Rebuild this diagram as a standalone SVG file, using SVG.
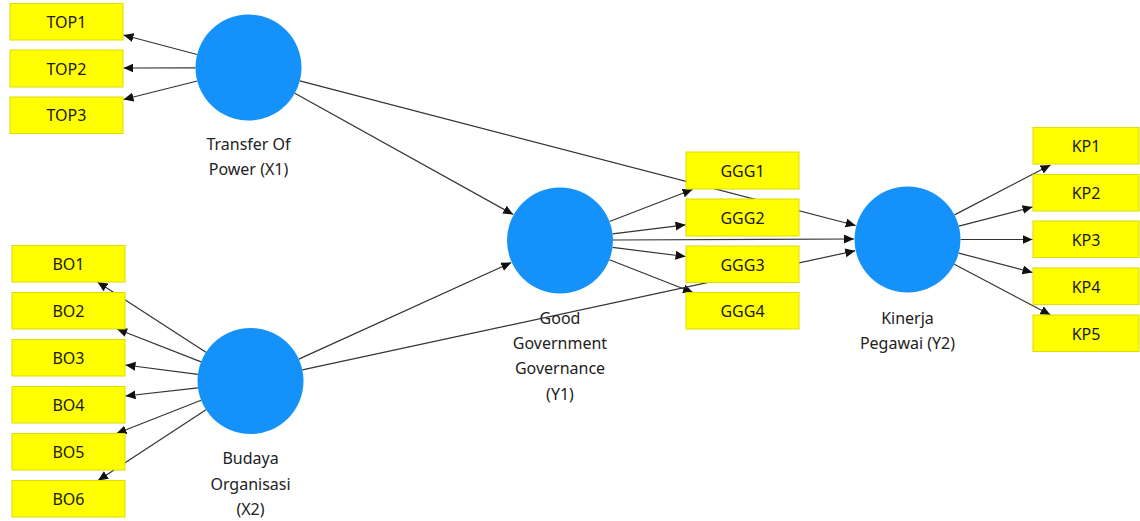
<svg xmlns="http://www.w3.org/2000/svg" width="1140" height="521" viewBox="0 0 1140 521">
  <defs>
    <marker id="arrow" markerUnits="userSpaceOnUse" markerWidth="12" markerHeight="10" refX="10" refY="4.5" orient="auto">
      <path d="M0,0 L10,4.5 L0,9 Z" fill="#111"/>
    </marker>
    <style>
      .edge { stroke: #333; stroke-width: 1.2; fill: none; marker-end: url(#arrow); }
      .latent { fill: #1592fa; }
      .ind { fill: #ffff00; stroke: #dcdc00; stroke-width: 1; }
      .ind-label { font-family: "Noto Sans", "Open Sans", sans-serif; font-size: 16px; fill: #1a1a1a; text-anchor: middle; }
      .lat-label { font-family: "Noto Sans", "Open Sans", sans-serif; font-size: 16px; fill: #222; text-anchor: middle; }
    </style>
  </defs>
  <rect width="1140" height="521" fill="#ffffff"/>

  <!-- connectors -->
  <g id="connectors">
    <!-- X1 loadings -->
    <line class="edge" x1="197.1" y1="54.5" x2="123.5" y2="35.0"/>
    <line class="edge" x1="195.5" y1="67.8" x2="123.5" y2="68.0"/>
    <line class="edge" x1="197.2" y1="81.0" x2="123.5" y2="99.5"/>
    <!-- X2 loadings -->
    <line class="edge" x1="205.9" y1="352.3" x2="97.5" y2="282.0"/>
    <line class="edge" x1="201.1" y1="361.9" x2="117.0" y2="329.0"/>
    <line class="edge" x1="197.9" y1="374.3" x2="125.5" y2="365.0"/>
    <line class="edge" x1="197.9" y1="387.9" x2="125.5" y2="396.0"/>
    <line class="edge" x1="201.1" y1="400.2" x2="116.5" y2="433.5"/>
    <line class="edge" x1="206.0" y1="409.8" x2="98.0" y2="480.5"/>
    <!-- Y1 loadings -->
    <line class="edge" x1="609.5" y1="221.5" x2="692.5" y2="189.5"/>
    <line class="edge" x1="612.6" y1="233.9" x2="685.5" y2="224.8"/>
    <line class="edge" x1="612.5" y1="247.4" x2="685.5" y2="256.5"/>
    <line class="edge" x1="609.4" y1="259.7" x2="693.0" y2="292.5"/>
    <!-- Y2 loadings -->
    <line class="edge" x1="954.5" y1="214.9" x2="1050.5" y2="165.0"/>
    <line class="edge" x1="958.8" y1="226.1" x2="1032.5" y2="207.0"/>
    <line class="edge" x1="960.5" y1="239.5" x2="1032.5" y2="239.5"/>
    <line class="edge" x1="958.7" y1="253.1" x2="1032.5" y2="272.5"/>
    <line class="edge" x1="954.3" y1="264.3" x2="1050.5" y2="315.0"/>
    <!-- structural paths -->
    <line class="edge" x1="294.8" y1="93.2" x2="513.2" y2="214.5"/>
    <line class="edge" x1="299.8" y1="80.9" x2="855.7" y2="225.5"/>
    <line class="edge" x1="298.8" y1="359.1" x2="511.2" y2="262.6"/>
    <line class="edge" x1="302.3" y1="369.8" x2="855.2" y2="250.8"/>
    <line class="edge" x1="613.0" y1="240.0" x2="854.0" y2="239.0"/>
  </g>

  <!-- latent variables -->
  <g id="X1">
    <circle class="latent" cx="248.5" cy="67.5" r="53"/>
    <text class="lat-label" x="248.5" y="150">Transfer Of</text>
    <text class="lat-label" x="248.5" y="175">Power (X1)</text>
  </g>
  <g id="X2">
    <circle class="latent" cx="250.5" cy="381" r="53"/>
    <text class="lat-label" x="250.5" y="464">Budaya</text>
    <text class="lat-label" x="250.5" y="490">Organisasi</text>
    <text class="lat-label" x="250.5" y="515">(X2)</text>
  </g>
  <g id="Y1">
    <circle class="latent" cx="560" cy="240.5" r="53"/>
    <text class="lat-label" x="560" y="324">Good</text>
    <text class="lat-label" x="560" y="349">Government</text>
    <text class="lat-label" x="560" y="374">Governance</text>
    <text class="lat-label" x="560" y="400">(Y1)</text>
  </g>
  <g id="Y2">
    <circle class="latent" cx="907.5" cy="239.5" r="53"/>
    <text class="lat-label" x="907.5" y="324">Kinerja</text>
    <text class="lat-label" x="907.5" y="349">Pegawai (Y2)</text>
  </g>

  <!-- indicators -->
  <g id="TOP1"><rect class="ind" x="10" y="3.5" width="113" height="36.5"/><text class="ind-label" x="66.5" y="27.5">TOP1</text></g>
  <g id="TOP2"><rect class="ind" x="10" y="50" width="113" height="37"/><text class="ind-label" x="66.5" y="74.5">TOP2</text></g>
  <g id="TOP3"><rect class="ind" x="10" y="97" width="113" height="36.5"/><text class="ind-label" x="66.5" y="121">TOP3</text></g>

  <g id="BO1"><rect class="ind" x="12" y="245.5" width="113" height="36.5"/><text class="ind-label" x="68.5" y="269.5">BO1</text></g>
  <g id="BO2"><rect class="ind" x="12" y="292.5" width="113" height="36.5"/><text class="ind-label" x="68.5" y="316.5">BO2</text></g>
  <g id="BO3"><rect class="ind" x="12" y="339.5" width="113" height="36.5"/><text class="ind-label" x="68.5" y="363.5">BO3</text></g>
  <g id="BO4"><rect class="ind" x="12" y="386.5" width="113" height="36.5"/><text class="ind-label" x="68.5" y="410.5">BO4</text></g>
  <g id="BO5"><rect class="ind" x="12" y="433.5" width="113" height="36.5"/><text class="ind-label" x="68.5" y="457.5">BO5</text></g>
  <g id="BO6"><rect class="ind" x="12" y="480.5" width="113" height="36.5"/><text class="ind-label" x="68.5" y="504.5">BO6</text></g>

  <g id="GGG1"><rect class="ind" x="686" y="152" width="113" height="37"/><text class="ind-label" x="742.5" y="176.5">GGG1</text></g>
  <g id="GGG2"><rect class="ind" x="686" y="199" width="113" height="37"/><text class="ind-label" x="742.5" y="223.5">GGG2</text></g>
  <g id="GGG3"><rect class="ind" x="686" y="246" width="113" height="36.5"/><text class="ind-label" x="742.5" y="270.5">GGG3</text></g>
  <g id="GGG4"><rect class="ind" x="686" y="292.5" width="113" height="36.5"/><text class="ind-label" x="742.5" y="317">GGG4</text></g>

  <g id="KP1"><rect class="ind" x="1033" y="127.5" width="106" height="36.5"/><text class="ind-label" x="1086" y="151.5">KP1</text></g>
  <g id="KP2"><rect class="ind" x="1033" y="174.5" width="106" height="36.5"/><text class="ind-label" x="1086" y="198.5">KP2</text></g>
  <g id="KP3"><rect class="ind" x="1033" y="221" width="106" height="36.5"/><text class="ind-label" x="1086" y="245.5">KP3</text></g>
  <g id="KP4"><rect class="ind" x="1033" y="268" width="106" height="36.5"/><text class="ind-label" x="1086" y="292.5">KP4</text></g>
  <g id="KP5"><rect class="ind" x="1033" y="315" width="106" height="36.5"/><text class="ind-label" x="1086" y="339.5">KP5</text></g>
</svg>
